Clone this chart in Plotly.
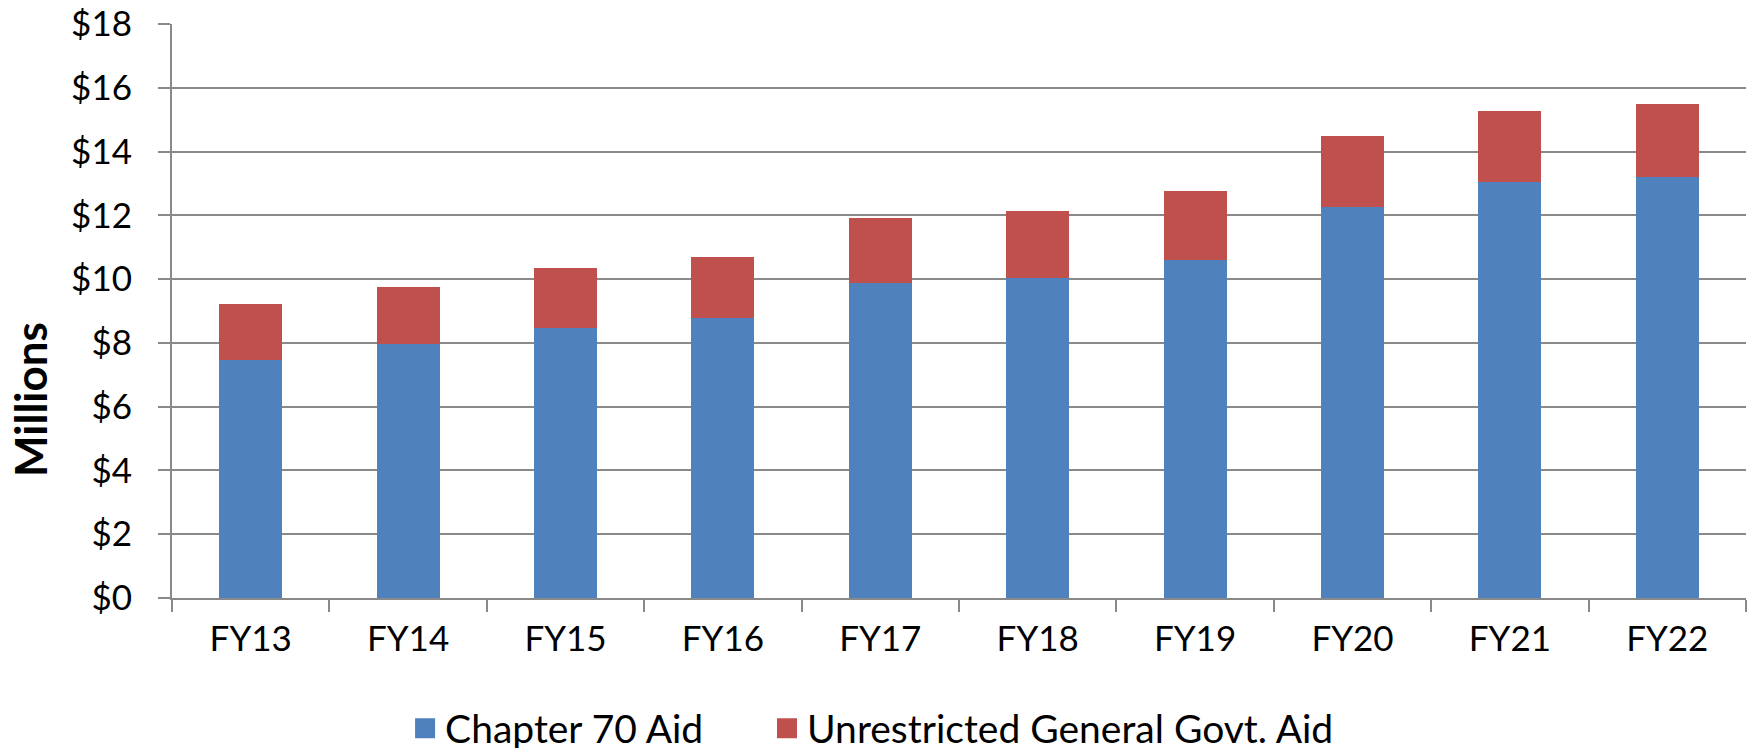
import plotly.graph_objects as go

# данные (млн $)
years = ['FY13', 'FY14', 'FY15', 'FY16', 'FY17', 'FY18', 'FY19', 'FY20', 'FY21', 'FY22']
chapter70 = [7.46, 7.95, 8.46, 8.77, 9.88, 10.03, 10.59, 12.27, 13.04, 13.19]
ugga = [1.75, 1.80, 1.88, 1.92, 2.03, 2.11, 2.17, 2.21, 2.22, 2.29]
y_ticks = [0, 2, 4, 6, 8, 10, 12, 14, 16, 18]
y_labels = ['$' + str(v) for v in y_ticks]

font = 'Lato, Calibri, sans-serif'
grid = '#898989'
blue, red = '#4F81BD', '#C0504D'

fig = go.Figure()
fig.add_trace(go.Bar(x=years, y=chapter70, name='Chapter 70 Aid', showlegend=False,
                     marker=dict(color=blue, line=dict(width=0))))
fig.add_trace(go.Bar(x=years, y=ugga, name='Unrestricted General Govt. Aid', showlegend=False,
                     marker=dict(color=red, line=dict(width=0))))
# легенда с крупными квадратами (две легенды, чтобы задать промежуток)
for name, c, lg in [('Chapter 70 Aid', blue, 'legend'),
                    ('Unrestricted General Govt. Aid', red, 'legend2')]:
    fig.add_trace(go.Scatter(x=[None], y=[None], mode='markers', name=name, legend=lg,
                             marker=dict(symbol='square', size=24, color=c,
                                         line=dict(color=c, width=4))))

leg = dict(orientation='h', xref='container', yref='container', xanchor='left',
           y=0.037, yanchor='middle', font=dict(size=39), itemwidth=30)

fig.update_layout(
    barmode='stack', bargap=0.6,
    width=1757, height=748,
    margin=dict(l=164, r=19, t=16, b=158, autoexpand=False),
    paper_bgcolor='white', plot_bgcolor='white',
    font=dict(family=font, size=35, color='black'),
    showlegend=True,
    legend=dict(leg, x=0.226),
    legend2=dict(leg, x=0.432),
)
fig.update_xaxes(type='category', showline=True, linecolor=grid, linewidth=2,
                 ticks='outside', tickson='boundaries', ticklen=12, tickcolor=grid,
                 tickwidth=2, showgrid=False, ticklabelstandoff=9, automargin=False)
fig.update_yaxes(range=[0, 18], tickvals=y_ticks, ticktext=y_labels,
                 showline=True, linecolor=grid, linewidth=2,
                 ticks='outside', ticklen=12, tickcolor=grid, tickwidth=2,
                 gridcolor=grid, gridwidth=2, zeroline=False, ticklabelstandoff=19,
                 ticklabeloverflow='allow', automargin=False)

fig.add_annotation(text='<b>Millions</b>', textangle=-90, xref='paper', yref='paper',
                   x=-0.0902, y=0.345, xanchor='center', yanchor='middle',
                   showarrow=False, font=dict(size=44))

fig.write_html('out.html')
